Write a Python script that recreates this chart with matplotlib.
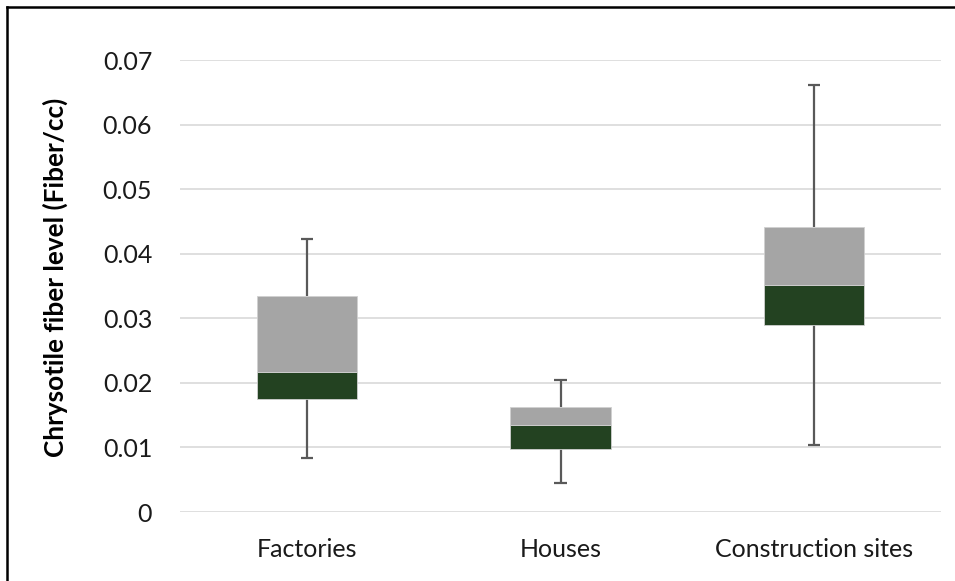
import matplotlib
matplotlib.use("Agg")
import matplotlib.pyplot as plt
from matplotlib.lines import Line2D

categories = ["Factories", "Houses", "Construction sites"]
minimum = [0.0084, 0.0045, 0.0104]
q1 = [0.0175, 0.0098, 0.0289]
median = [0.0217, 0.0134, 0.0352]
q3 = [0.0334, 0.0163, 0.0442]
maximum = [0.0423, 0.0204, 0.0662]
yticks = [0, 0.01, 0.02, 0.03, 0.04, 0.05, 0.06, 0.07]
ytick_labels = ["0", "0.01", "0.02", "0.03", "0.04", "0.05", "0.06", "0.07"]

plt.rcParams['font.family'] = ['Lato', 'DejaVu Sans']

W, H = 955, 581
fig = plt.figure(figsize=(W/100, H/100), dpi=100)
ax = fig.add_axes([180/W, (H-512)/H, 761/W, 452/H])

x = list(range(len(categories)))
lower = [m - a for m, a in zip(median, q1)]
upper = [b - m for b, m in zip(q3, median)]

wc = "#595959"
ax.vlines(x, minimum, q1, color=wc, lw=1.6, zorder=2)
ax.vlines(x, q3, maximum, color=wc, lw=1.6, zorder=2)
ax.hlines(minimum, [i - 0.024 for i in x], [i + 0.024 for i in x], color=wc, lw=1.6, zorder=2)
ax.hlines(maximum, [i - 0.024 for i in x], [i + 0.024 for i in x], color=wc, lw=1.6, zorder=2)

ax.bar(x, lower, bottom=q1, width=0.395, color="#234221", edgecolor="#D0D0D0", lw=0.6, zorder=3)
ax.bar(x, upper, bottom=median, width=0.395, color="#A5A5A5", edgecolor="#D0D0D0", lw=0.6, zorder=3)

ax.set_xlim(-0.5, len(categories) - 0.5)
ax.set_ylim(0, 0.07)
ax.set_yticks(yticks)
ax.set_yticklabels(ytick_labels)
ax.set_xticks(x)
ax.set_xticklabels(categories)
ax.grid(axis="y", color="#D9D9D9", lw=1.2, zorder=0)
ax.set_axisbelow(True)
for s in ax.spines.values():
    s.set_visible(False)
ax.tick_params(axis="both", length=0, labelsize=18, colors="#1a1a1a")
ax.tick_params(axis="y", pad=20)
ax.tick_params(axis="x", pad=19)
fig.text(55/W, 1 - 277/H, "Chrysotile fiber level (Fiber/cc)", rotation=90,
         ha="center", va="center", fontsize=18.8, fontweight="bold", color="#000000")

# border lines (left and top only, as in the reference crop)
fig.add_artist(Line2D([6.5/W, 6.5/W], [0, 1 - 7/H], transform=fig.transFigure, color="black", lw=1.8))
fig.add_artist(Line2D([6.5/W, 1], [1 - 7/H, 1 - 7/H], transform=fig.transFigure, color="black", lw=1.8))

fig.savefig("out.png", dpi=100)
